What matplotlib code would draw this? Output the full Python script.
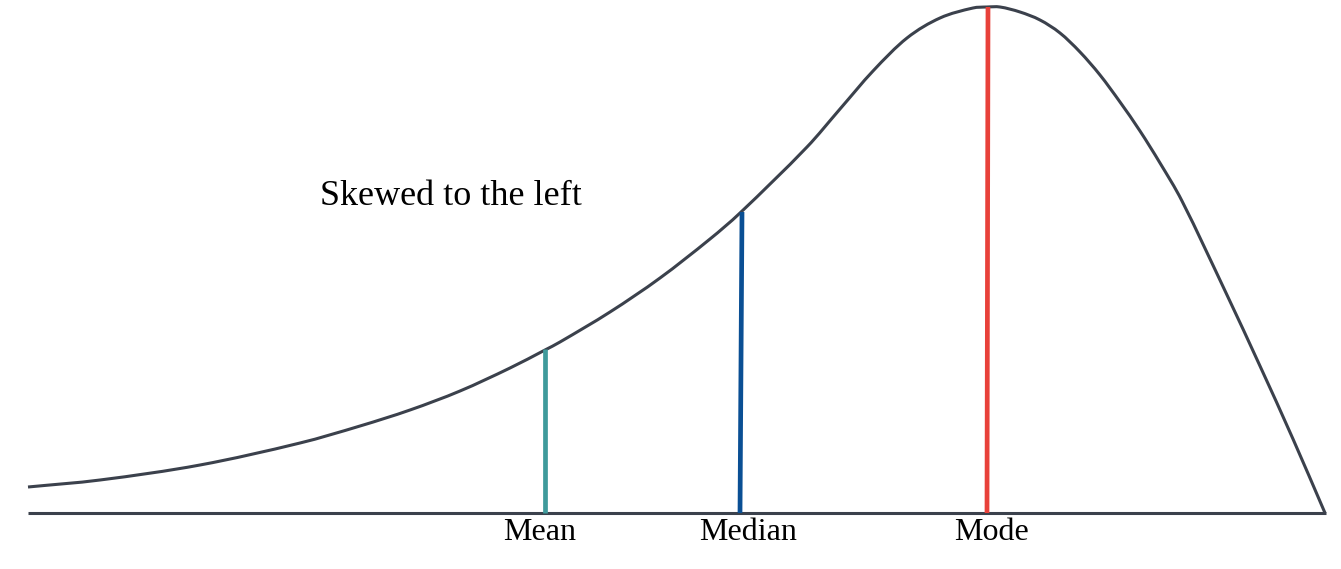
import matplotlib.pyplot as plt
from matplotlib.path import Path
from matplotlib.patches import PathPatch

# curve (x position, height above baseline)
curve_x = [28, 100, 200, 300, 360, 410, 460, 510, 545, 560, 610, 660, 710,
           740, 807, 840, 873, 907, 940, 973, 987, 1000, 1020, 1040, 1060,
           1080, 1100, 1120, 1140, 1160, 1182, 1227, 1260, 1293, 1325]
curve_h = [26, 33, 48, 70, 87, 103, 122, 145, 163, 171, 201, 235, 274,
           300, 366, 404, 442, 475, 495, 505, 506, 506, 501, 493, 480,
           461, 438, 411, 382, 350, 312, 218, 147, 74, 0]

# vertical markers
marker_names = ['Mean', 'Median', 'Mode']
marker_x_base = [545, 740, 987]
marker_x_top = [545, 742, 988]
marker_h = [164, 301, 506]
marker_colors = ['#3f9a9b', '#0a4f94', '#e8413a']
label_x = [540, 748, 992]

base_x = [28, 1326]

fig = plt.figure(figsize=(13.41, 5.69), dpi=100)
ax = fig.add_axes([0, 0, 1, 1])
ax.set_xlim(0, 1341)
ax.set_ylim(-56, 513)
ax.axis('off')

ax.plot(base_x, [0, 0], color='#3b414c', lw=2.2, solid_capstyle='butt')

# smooth curve through the read points: cubic Bezier segments (Hermite in x)
n = len(curve_x)
slopes = []
for i in range(n):
    a = max(i - 1, 0)
    b = min(i + 1, n - 1)
    slopes.append((curve_h[b] - curve_h[a]) / (curve_x[b] - curve_x[a]))
verts = [(curve_x[0], curve_h[0])]
codes = [Path.MOVETO]
for i in range(n - 1):
    dx = (curve_x[i + 1] - curve_x[i]) / 3
    verts += [(curve_x[i] + dx, curve_h[i] + slopes[i] * dx),
              (curve_x[i + 1] - dx, curve_h[i + 1] - slopes[i + 1] * dx),
              (curve_x[i + 1], curve_h[i + 1])]
    codes += [Path.CURVE4] * 3
ax.add_patch(PathPatch(Path(verts, codes), fill=False, edgecolor='#3b414c',
                       lw=2.2, joinstyle='round'))

for name, xb, xt, h, c, lx in zip(marker_names, marker_x_base, marker_x_top,
                                  marker_h, marker_colors, label_x):
    ax.plot([xb, xt], [0, h], color=c, lw=3.4, solid_capstyle='butt')
    ax.text(lx, -27, name, ha='center', va='baseline',
            fontsize=23, family='Liberation Serif', color='black')

ax.text(320, 308, 'Skewed to the left', ha='left', va='baseline',
        fontsize=26, family='Liberation Serif', color='black')

fig.savefig('out.png', dpi=100)
